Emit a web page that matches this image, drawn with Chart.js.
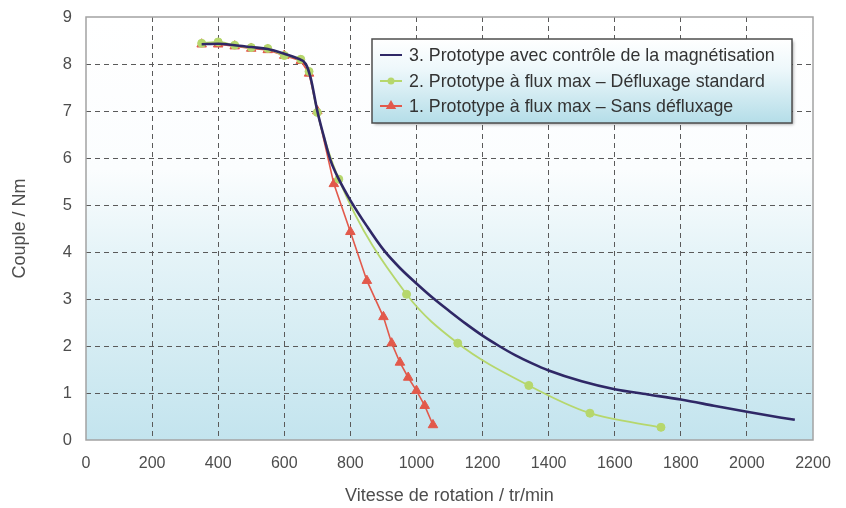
<!DOCTYPE html>
<html>
<head>
<meta charset="utf-8">
<script src="https://cdn.jsdelivr.net/npm/chart.js@4/dist/chart.umd.min.js"></script>
<style>
  html, body { margin: 0; padding: 0; background: #ffffff; }
  #wrap { position: relative; width: 846px; height: 508px; }
</style>
</head>
<body>
<div id="wrap"><canvas id="c" width="846" height="508"></canvas></div>
<script>
// ---- Data ----
const seriesLabels = [
  '3. Prototype avec contrôle de la magnétisation',
  '2. Prototype à flux max – Défluxage standard',
  '1. Prototype à flux max – Sans défluxage'
];
const speed3  = [350, 400, 450, 500, 550, 600, 640, 665, 680, 700, 720, 740, 765, 800, 850, 900, 950, 1000, 1050, 1100, 1150, 1200, 1250, 1300, 1350, 1400, 1500, 1600, 1700, 1800, 1900, 2000, 2100, 2145];
const torque3 = [8.42, 8.43, 8.40, 8.36, 8.32, 8.22, 8.12, 8.0, 7.7, 7.0, 6.45, 5.95, 5.55, 5.1, 4.55, 4.05, 3.66, 3.33, 3.02, 2.74, 2.47, 2.22, 2.0, 1.8, 1.63, 1.48, 1.25, 1.08, 0.97, 0.86, 0.73, 0.6, 0.48, 0.43];
const speed2  = [350, 400, 450, 500, 550, 600, 650, 675, 700, 765, 970, 1125, 1340, 1525, 1740];
const torque2 = [8.44, 8.47, 8.40, 8.35, 8.33, 8.18, 8.10, 7.84, 6.97, 5.55, 3.10, 2.06, 1.16, 0.57, 0.27];
const speed1  = [350, 400, 450, 500, 550, 600, 650, 675, 700, 750, 800, 850, 900, 925, 950, 975, 1000, 1025, 1050];
const torque1 = [8.42, 8.42, 8.38, 8.33, 8.30, 8.18, 8.07, 7.80, 7.00, 5.45, 4.43, 3.39, 2.62, 2.06, 1.65, 1.33, 1.05, 0.73, 0.32];
const xTicks = [0, 200, 400, 600, 800, 1000, 1200, 1400, 1600, 1800, 2000, 2200];
const yTicks = [0, 1, 2, 3, 4, 5, 6, 7, 8, 9];
const xTitle = 'Vitesse de rotation / tr/min';
const yTitle = 'Couple / Nm';

const toPts = (xs, ys) => xs.map((x, i) => ({ x: x, y: ys[i] }));

const COL3 = '#2f2866';
const COL2 = '#b6d76c';
const COL1 = '#e2594b';
const FONT = "'Liberation Sans', Arial, sans-serif";

const bgPlugin = {
  id: 'bg',
  beforeDraw(chart) {
    const { ctx, chartArea: a } = chart;
    const g = ctx.createLinearGradient(0, a.top, 0, a.bottom);
    g.addColorStop(0, '#ffffff');
    g.addColorStop(0.36, '#fbfdfe');
    g.addColorStop(0.55, '#e6f4f8');
    g.addColorStop(1, '#c3e4ee');
    ctx.save();
    ctx.fillStyle = g;
    ctx.fillRect(a.left, a.top, a.right - a.left, a.bottom - a.top);
    ctx.restore();
  },
  beforeDatasetsDraw(chart) {
    const { ctx, chartArea: a } = chart;
    ctx.save();
    ctx.strokeStyle = '#a3a3a3';
    ctx.lineWidth = 1.5;
    ctx.strokeRect(a.left, a.top, a.right - a.left, a.bottom - a.top);
    ctx.restore();
  }
};

const legendPlugin = {
  id: 'boxLegend',
  afterDraw(chart) {
    const ctx = chart.ctx;
    const bx = 372, by = 39, bw = 420, bh = 84;
    ctx.save();
    ctx.shadowColor = 'rgba(0,0,0,0.35)';
    ctx.shadowBlur = 3;
    ctx.shadowOffsetX = 1.5;
    ctx.shadowOffsetY = 1.5;
    const g = ctx.createLinearGradient(0, by, 0, by + bh);
    g.addColorStop(0, '#ffffff');
    g.addColorStop(0.35, '#eef8fb');
    g.addColorStop(1, '#b4dde8');
    ctx.fillStyle = g;
    ctx.fillRect(bx, by, bw, bh);
    ctx.shadowColor = 'transparent';
    ctx.strokeStyle = '#4d4d4d';
    ctx.lineWidth = 1.5;
    ctx.strokeRect(bx, by, bw, bh);
    const rows = [55, 81, 106];
    const ds = chart.data.datasets;
    ds.forEach((d, i) => {
      const y = rows[i];
      ctx.strokeStyle = d.borderColor;
      ctx.lineWidth = 2;
      ctx.beginPath();
      ctx.moveTo(380, y);
      ctx.lineTo(402, y);
      ctx.stroke();
      if (d.pointRadius > 0) {
        ctx.fillStyle = d.pointBackgroundColor;
        ctx.strokeStyle = d.pointBorderColor;
        Chart.helpers.drawPoint(ctx, {
          pointStyle: d.pointStyle, radius: d.pointRadius - 1.5, borderWidth: 1, rotation: 0
        }, 391, y);
      }
      ctx.fillStyle = '#333333';
      ctx.font = '17.8px ' + FONT;
      ctx.textBaseline = 'middle';
      ctx.textAlign = 'left';
      ctx.fillText(d.label, 409, y + 1);
    });
    ctx.restore();
  }
};

new Chart(document.getElementById('c'), {
  type: 'line',
  data: {
    datasets: [
      {
        label: seriesLabels[0],
        data: toPts(speed3, torque3),
        borderColor: COL3,
        borderWidth: 2.6,
        pointRadius: 0,
        cubicInterpolationMode: 'monotone',
        fill: false
      },
      {
        label: seriesLabels[1],
        data: toPts(speed2, torque2),
        borderColor: COL2,
        borderWidth: 1.8,
        pointRadius: 4,
        pointStyle: 'circle',
        pointBackgroundColor: COL2,
        pointBorderColor: COL2,
        pointBorderWidth: 1,
        cubicInterpolationMode: 'monotone',
        fill: false
      },
      {
        label: seriesLabels[2],
        data: toPts(speed1, torque1),
        borderColor: COL1,
        borderWidth: 1.6,
        pointRadius: 5.5,
        pointStyle: 'triangle',
        pointBackgroundColor: COL1,
        pointBorderColor: COL1,
        pointBorderWidth: 1,
        tension: 0,
        fill: false
      }
    ]
  },
  options: {
    responsive: false,
    animation: false,
    devicePixelRatio: 1,
    layout: { padding: { top: 17, right: 33, bottom: 0, left: 0 } },
    plugins: {
      legend: { display: false },
      tooltip: { enabled: false }
    },
    scales: {
      x: {
        type: 'linear',
        min: 0, max: 2200,
        afterBuildTicks(scale) { scale.ticks = xTicks.map(v => ({ value: v })); },
        afterFit(scale) { scale.height = 68; },
        grid: {
          color: (c) => (c.tick && (c.tick.value === 0 || c.tick.value === 2200)) ? 'rgba(0,0,0,0)' : '#5a5a5a',
          lineWidth: 1,
          drawTicks: false
        },
        border: { display: false, dash: [5, 4] },
        ticks: {
          padding: 14, color: '#4d4d4d', font: { family: FONT, size: 16 }, maxRotation: 0, autoSkip: false,
          callback: (v) => String(v)
        },
        title: { display: true, text: xTitle, color: '#4d4d4d', font: { family: FONT, size: 18 }, padding: { top: 4, bottom: 1 } }
      },
      y: {
        type: 'linear',
        min: 0, max: 9,
        afterBuildTicks(scale) { scale.ticks = yTicks.map(v => ({ value: v })); },
        afterFit(scale) { scale.width = 86; scale.paddingTop = 0; scale.paddingBottom = 0; },
        grid: {
          color: (c) => (c.tick && (c.tick.value === 0 || c.tick.value === 9)) ? 'rgba(0,0,0,0)' : '#5a5a5a',
          lineWidth: 1,
          drawTicks: false
        },
        border: { display: false, dash: [5, 4] },
        ticks: { padding: 14, color: '#4d4d4d', font: { family: FONT, size: 16.5 }, callback: (v) => String(v) },
        title: { display: true, text: yTitle, color: '#4d4d4d', font: { family: FONT, size: 18 }, padding: { top: 9, bottom: 0 } }
      }
    }
  },
  plugins: [bgPlugin, legendPlugin]
});
</script>
</body>
</html>
